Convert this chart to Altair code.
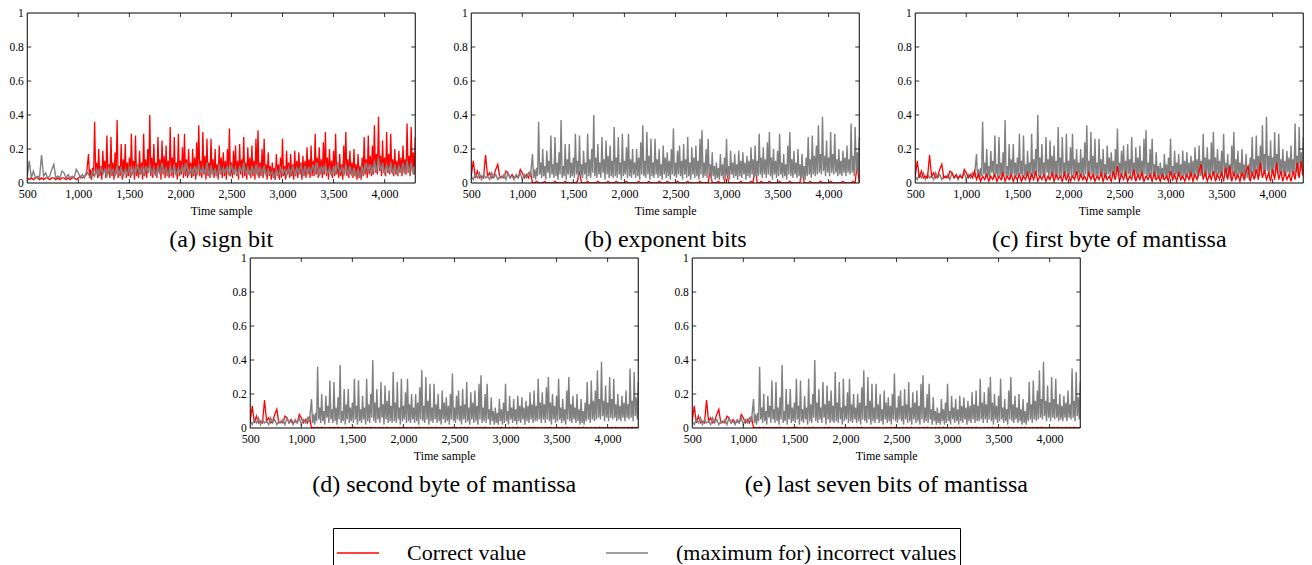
import altair as alt
import pandas as pd

FONT = "Liberation Serif"

# time-sample positions
x_early = list(range(500, 1100, 20))      # 500 .. 1080, every 20 samples
x_late = list(range(1100, 4301, 20))      # 1100 .. 4300, every 20 samples
x_late10 = list(range(1100, 4301, 10))    # 1100 .. 4300, every 10 samples
x_ticks = [500, 1000, 1500, 2000, 2500, 3000, 3500, 4000]
y_ticks = [0, 0.2, 0.4, 0.6, 0.8, 1]

series_names = ["Correct value", "(maximum for) incorrect values"]
series_colors = ["#ff0000", "#808080"]

captions = ["(a) sign bit", "(b) exponent bits", "(c) first byte of mantissa",
            "(d) second byte of mantissa", "(e) last seven bits of mantissa"]

# early segment (500-1080)
spiky_early = [0.04, 0.13, 0.03, 0.07, 0.03, 0.04, 0.03, 0.165, 0.04, 0.06,
               0.03, 0.04, 0.08, 0.11, 0.03, 0.04, 0.03, 0.07, 0.06, 0.03,
               0.05, 0.03, 0.04, 0.03, 0.08, 0.06, 0.03, 0.05, 0.03, 0.07]
quiet_early = [0.04, 0.02, 0.05, 0.03, 0.06, 0.02, 0.05, 0.03, 0.04, 0.02,
               0.06, 0.03, 0.05, 0.02, 0.04, 0.03, 0.05, 0.02, 0.06, 0.03,
               0.04, 0.02, 0.05, 0.03, 0.06, 0.02, 0.05, 0.03, 0.06, 0.04]
red_a_early = [0.03, 0.02, 0.03, 0.02, 0.03, 0.03, 0.02, 0.03, 0.02, 0.03,
               0.03, 0.02, 0.03, 0.03, 0.02, 0.03, 0.02, 0.03, 0.03, 0.02,
               0.03, 0.02, 0.03, 0.03, 0.02, 0.03, 0.04, 0.03, 0.04, 0.05]

# late segment (1100-4300, every 10 samples): the strongly peaked trace
spiky_late10 = [
    0.17, 0.03, 0.08, 0.02, 0.09, 0.04, 0.36, 0.05, 0.12, 0.03, 0.20, 0.04, 0.10, 0.02, 0.19, 0.06, 0.13, 0.03, 0.28, 0.05,
    0.11, 0.03, 0.27, 0.04, 0.12, 0.02, 0.18, 0.05, 0.37, 0.03, 0.10, 0.04, 0.23, 0.02, 0.14, 0.05, 0.23, 0.03, 0.12, 0.04,
    0.15, 0.03, 0.29, 0.05, 0.13, 0.02, 0.28, 0.04, 0.11, 0.03, 0.19, 0.05, 0.12, 0.02, 0.29, 0.04, 0.14, 0.03, 0.20, 0.06,
    0.40, 0.04, 0.15, 0.03, 0.23, 0.05, 0.12, 0.03, 0.27, 0.06, 0.14, 0.02, 0.25, 0.05, 0.16, 0.03, 0.22, 0.04, 0.13, 0.03,
    0.33, 0.04, 0.15, 0.03, 0.27, 0.05, 0.12, 0.02, 0.29, 0.04, 0.13, 0.05, 0.21, 0.03, 0.29, 0.04, 0.14, 0.03, 0.20, 0.05,
    0.12, 0.03, 0.20, 0.04, 0.15, 0.02, 0.24, 0.05, 0.34, 0.04, 0.13, 0.03, 0.30, 0.05, 0.16, 0.02, 0.26, 0.04, 0.12, 0.03,
    0.26, 0.05, 0.14, 0.03, 0.20, 0.04, 0.11, 0.02, 0.22, 0.05, 0.15, 0.03, 0.18, 0.04, 0.13, 0.02, 0.20, 0.05, 0.32, 0.04,
    0.12, 0.03, 0.19, 0.05, 0.22, 0.04, 0.13, 0.02, 0.23, 0.05, 0.14, 0.03, 0.27, 0.04, 0.12, 0.02, 0.21, 0.05, 0.15, 0.03,
    0.22, 0.04, 0.13, 0.02, 0.26, 0.05, 0.31, 0.03, 0.12, 0.04, 0.20, 0.03, 0.26, 0.05, 0.11, 0.02, 0.18, 0.04, 0.10, 0.02,
    0.12, 0.03, 0.09, 0.02, 0.17, 0.04, 0.11, 0.02, 0.15, 0.03, 0.26, 0.04, 0.10, 0.02, 0.19, 0.05, 0.12, 0.03, 0.17, 0.04,
    0.11, 0.02, 0.19, 0.04, 0.13, 0.03, 0.18, 0.05, 0.12, 0.02, 0.16, 0.04, 0.13, 0.03, 0.21, 0.05, 0.14, 0.03, 0.22, 0.04,
    0.13, 0.04, 0.29, 0.05, 0.15, 0.03, 0.21, 0.05, 0.14, 0.03, 0.24, 0.05, 0.30, 0.04, 0.15, 0.02, 0.20, 0.05, 0.13, 0.03,
    0.19, 0.04, 0.29, 0.05, 0.12, 0.03, 0.17, 0.04, 0.11, 0.02, 0.22, 0.05, 0.30, 0.04, 0.14, 0.03, 0.19, 0.05, 0.12, 0.03,
    0.20, 0.04, 0.11, 0.02, 0.17, 0.03, 0.10, 0.02, 0.15, 0.04, 0.27, 0.05, 0.14, 0.03, 0.28, 0.05, 0.16, 0.04, 0.22, 0.05,
    0.34, 0.06, 0.17, 0.05, 0.39, 0.07, 0.16, 0.04, 0.25, 0.06, 0.15, 0.04, 0.30, 0.06, 0.17, 0.05, 0.29, 0.06, 0.14, 0.04,
    0.20, 0.05, 0.13, 0.04, 0.19, 0.06, 0.15, 0.04, 0.22, 0.06, 0.14, 0.05, 0.35, 0.06, 0.16, 0.04, 0.33, 0.07, 0.18, 0.05,
    0.27]
# sign bit: maximum over incorrect values (every 20 samples)
gray_a_late = [
    0.05, 0.03, 0.07, 0.04, 0.08, 0.04, 0.09, 0.05, 0.08, 0.04,
    0.09, 0.05, 0.08, 0.04, 0.10, 0.05, 0.09, 0.04, 0.08, 0.05,
    0.10, 0.04, 0.09, 0.05, 0.11, 0.05, 0.09, 0.04, 0.10, 0.06,
    0.11, 0.05, 0.09, 0.04, 0.10, 0.05, 0.12, 0.06, 0.09, 0.04,
    0.10, 0.05, 0.11, 0.04, 0.09, 0.06, 0.10, 0.05, 0.12, 0.04,
    0.09, 0.05, 0.10, 0.04, 0.11, 0.06, 0.09, 0.05, 0.12, 0.04,
    0.10, 0.05, 0.08, 0.04, 0.11, 0.05, 0.09, 0.06, 0.10, 0.04,
    0.11, 0.05, 0.09, 0.04, 0.10, 0.06, 0.12, 0.05, 0.09, 0.04,
    0.10, 0.05, 0.11, 0.04, 0.09, 0.05, 0.10, 0.04, 0.08, 0.05,
    0.07, 0.03, 0.08, 0.04, 0.09, 0.05, 0.08, 0.04, 0.09, 0.05,
    0.10, 0.04, 0.09, 0.05, 0.11, 0.04, 0.10, 0.05, 0.09, 0.06,
    0.11, 0.05, 0.12, 0.04, 0.10, 0.06, 0.11, 0.05, 0.09, 0.04,
    0.10, 0.05, 0.12, 0.06, 0.09, 0.04, 0.11, 0.05, 0.10, 0.04,
    0.09, 0.04, 0.08, 0.03, 0.10, 0.05, 0.12, 0.06, 0.11, 0.05,
    0.13, 0.06, 0.15, 0.07, 0.12, 0.05, 0.11, 0.06, 0.12, 0.05,
    0.11, 0.05, 0.10, 0.06, 0.12, 0.05, 0.13, 0.06, 0.12, 0.05,
    0.10]
# first byte of mantissa: correct value (every 20 samples)
red_c_late = [
    0.02, 0.05, 0.01, 0.04, 0.02, 0.05, 0.01, 0.04, 0.02, 0.05,
    0.01, 0.04, 0.02, 0.06, 0.01, 0.04, 0.02, 0.05, 0.01, 0.04,
    0.02, 0.05, 0.01, 0.04, 0.02, 0.06, 0.01, 0.05, 0.02, 0.07,
    0.01, 0.04, 0.02, 0.05, 0.01, 0.04, 0.02, 0.06, 0.01, 0.05,
    0.02, 0.04, 0.01, 0.06, 0.02, 0.05, 0.01, 0.04, 0.02, 0.07,
    0.01, 0.05, 0.02, 0.04, 0.01, 0.06, 0.02, 0.05, 0.01, 0.04,
    0.02, 0.06, 0.01, 0.05, 0.02, 0.04, 0.01, 0.07, 0.02, 0.10,
    0.01, 0.05, 0.02, 0.06, 0.01, 0.04, 0.02, 0.08, 0.01, 0.05,
    0.02, 0.06, 0.01, 0.04, 0.02, 0.05, 0.01, 0.06, 0.02, 0.04,
    0.01, 0.05, 0.02, 0.04, 0.01, 0.07, 0.02, 0.05, 0.01, 0.06,
    0.02, 0.04, 0.01, 0.05, 0.02, 0.06, 0.01, 0.05, 0.02, 0.07,
    0.11, 0.02, 0.06, 0.01, 0.05, 0.02, 0.07, 0.01, 0.05, 0.02,
    0.06, 0.01, 0.09, 0.02, 0.10, 0.01, 0.06, 0.02, 0.05, 0.01,
    0.06, 0.02, 0.07, 0.10, 0.01, 0.06, 0.02, 0.08, 0.02, 0.12,
    0.03, 0.07, 0.02, 0.06, 0.01, 0.08, 0.02, 0.12, 0.02, 0.07,
    0.01, 0.06, 0.02, 0.05, 0.01, 0.07, 0.02, 0.12, 0.03, 0.13,
    0.04]
# exponent bits: correct value (every 20 samples, mostly near zero)
red_b_late = [
    0.00, 0.00, 0.01, 0.00, 0.00, 0.00, 0.01, 0.00, 0.00, 0.00,
    0.00, 0.01, 0.00, 0.00, 0.00, 0.00, 0.01, 0.00, 0.00, 0.00,
    0.00, 0.00, 0.01, 0.07, 0.00, 0.00, 0.00, 0.01, 0.00, 0.00,
    0.00, 0.00, 0.01, 0.00, 0.00, 0.00, 0.00, 0.01, 0.00, 0.00,
    0.00, 0.01, 0.00, 0.00, 0.00, 0.00, 0.01, 0.00, 0.00, 0.00,
    0.00, 0.00, 0.01, 0.00, 0.00, 0.00, 0.00, 0.01, 0.00, 0.00,
    0.00, 0.00, 0.01, 0.00, 0.00, 0.00, 0.01, 0.00, 0.00, 0.00,
    0.00, 0.01, 0.00, 0.00, 0.00, 0.00, 0.01, 0.00, 0.00, 0.00,
    0.00, 0.00, 0.01, 0.00, 0.00, 0.00, 0.00, 0.08, 0.00, 0.00,
    0.00, 0.01, 0.00, 0.00, 0.00, 0.09, 0.00, 0.00, 0.00, 0.00,
    0.00, 0.00, 0.01, 0.00, 0.00, 0.00, 0.00, 0.01, 0.00, 0.12,
    0.00, 0.00, 0.01, 0.00, 0.00, 0.00, 0.01, 0.00, 0.00, 0.00,
    0.00, 0.01, 0.00, 0.00, 0.00, 0.00, 0.01, 0.00, 0.00, 0.00,
    0.00, 0.00, 0.12, 0.00, 0.00, 0.00, 0.01, 0.00, 0.00, 0.00,
    0.00, 0.01, 0.00, 0.00, 0.00, 0.00, 0.01, 0.00, 0.00, 0.00,
    0.00, 0.00, 0.01, 0.00, 0.00, 0.00, 0.00, 0.01, 0.00, 0.12,
    0.00]
# mantissa bytes: correct value (every 20 samples, near zero)
red_de_late = [
    0.000, 0.004, 0.000, 0.003, 0.000, 0.005, 0.000, 0.002, 0.000, 0.004,
    0.000, 0.003, 0.000, 0.005, 0.000, 0.002, 0.000, 0.004, 0.000, 0.003,
    0.000, 0.005, 0.000, 0.002, 0.000, 0.004, 0.000, 0.003, 0.000, 0.005,
    0.000, 0.002, 0.000, 0.004, 0.000, 0.003, 0.000, 0.005, 0.000, 0.002,
    0.000, 0.004, 0.000, 0.003, 0.000, 0.005, 0.000, 0.002, 0.000, 0.004,
    0.000, 0.003, 0.000, 0.005, 0.000, 0.002, 0.000, 0.004, 0.000, 0.003,
    0.000, 0.005, 0.000, 0.002, 0.000, 0.004, 0.000, 0.003, 0.000, 0.005,
    0.000, 0.002, 0.000, 0.004, 0.000, 0.003, 0.000, 0.005, 0.000, 0.002,
    0.000, 0.004, 0.000, 0.003, 0.000, 0.005, 0.000, 0.002, 0.000, 0.004,
    0.000, 0.003, 0.000, 0.005, 0.000, 0.002, 0.000, 0.004, 0.000, 0.003,
    0.000, 0.005, 0.000, 0.002, 0.000, 0.004, 0.000, 0.003, 0.000, 0.005,
    0.000, 0.002, 0.000, 0.004, 0.000, 0.003, 0.000, 0.005, 0.000, 0.002,
    0.000, 0.004, 0.000, 0.003, 0.000, 0.005, 0.000, 0.002, 0.000, 0.004,
    0.000, 0.003, 0.000, 0.005, 0.000, 0.002, 0.000, 0.004, 0.000, 0.003,
    0.000, 0.005, 0.000, 0.002, 0.000, 0.004, 0.000, 0.003, 0.000, 0.005,
    0.000, 0.002, 0.000, 0.004, 0.000, 0.003, 0.000, 0.005, 0.000, 0.002,
    0.000]

for arr in (spiky_early, quiet_early, red_a_early):
    assert len(arr) == len(x_early), len(arr)
for arr in (gray_a_late, red_c_late, red_b_late, red_de_late):
    assert len(arr) == len(x_late), len(arr)
assert len(spiky_late10) == len(x_late10), len(spiky_late10)

xs_coarse = x_early + x_late
xs_fine = x_early + x_late10
# (red x, red values, grey x, grey values, red drawn on top)
panels = [
    (xs_fine, red_a_early + spiky_late10, xs_coarse, spiky_early + gray_a_late, False),
    (xs_coarse, spiky_early + red_b_late, xs_fine, quiet_early + spiky_late10, False),
    (xs_coarse, spiky_early + red_c_late, xs_fine, quiet_early + spiky_late10, True),
    (xs_coarse, spiky_early + red_de_late, xs_fine, quiet_early + spiky_late10, False),
    (xs_coarse, spiky_early + red_de_late, xs_fine, quiet_early + spiky_late10, False),
]

W, H = 388, 170

x_scale = alt.Scale(domain=[500, 4300], nice=False, zero=False)
y_scale = alt.Scale(domain=[0, 1], nice=False)
color_scale = alt.Scale(domain=series_names, range=series_colors)
legend = alt.Legend(
    title=None, orient="none", legendX=306, legendY=515, direction="horizontal",
    symbolType="stroke", symbolSize=1764, symbolStrokeWidth=1.5,
    labelFont=FONT, labelFontSize=22, labelColor="black", labelLimit=600,
    labelOffset=27, columnPadding=76, padding=3,
    strokeColor="black", fillColor="white",
)

x_axis = alt.Axis(values=x_ticks, format=",d", title="Time sample",
                  labelFlush=False, labelOverlap=False, labelPadding=5, titlePadding=6)
y_axis = alt.Axis(values=y_ticks, format=".1~f", title=None,
                  labelFlush=False, labelOverlap=False, labelPadding=4, labelFontSize=11.5)


def line_layer(df, sw):
    return alt.Chart(df).mark_line(strokeWidth=sw, clip=True).encode(
        x=alt.X("sample:Q", scale=x_scale, axis=x_axis),
        y=alt.Y("value:Q", scale=y_scale, axis=y_axis),
        color=alt.Color("series:N", scale=color_scale, legend=legend),
    )


xt = pd.DataFrame({"sample": x_ticks[1:]})
yt = pd.DataFrame({"value": y_ticks[1:-1]})
frame_df = pd.DataFrame({"frame": [1]})


def frame_layers():
    tx = alt.X("sample:Q", scale=x_scale, axis=x_axis)
    ty = alt.Y("value:Q", scale=y_scale, axis=y_axis)
    top = alt.Chart(xt).mark_rule(color="black", strokeWidth=0.8).encode(
        x=tx, y=alt.value(0), y2=alt.value(4))
    bot = alt.Chart(xt).mark_rule(color="black", strokeWidth=0.8).encode(
        x=tx, y=alt.value(H - 4), y2=alt.value(H))
    left = alt.Chart(yt).mark_rule(color="black", strokeWidth=0.8).encode(
        y=ty, x=alt.value(0), x2=alt.value(4))
    right = alt.Chart(yt).mark_rule(color="black", strokeWidth=0.8).encode(
        y=ty, x=alt.value(W - 4), x2=alt.value(W))
    box = alt.Chart(frame_df).mark_rect(fillOpacity=0, stroke="black", strokeWidth=1).encode(
        x=alt.value(0), x2=alt.value(W), y=alt.value(0), y2=alt.value(H))
    return [top, bot, left, right, box]


charts = []
for (rx, red, gx, gray, red_top), cap in zip(panels, captions):
    dred = pd.DataFrame({"sample": rx, "value": red, "series": series_names[0]})
    dgray = pd.DataFrame({"sample": gx, "value": gray, "series": series_names[1]})
    lr = line_layer(dred, 1.3)
    lg = line_layer(dgray, 1.4)
    layers = [lg, lr] if red_top else [lr, lg]
    ch = alt.layer(*layers, *frame_layers()).properties(
        width=W, height=H,
        title=alt.TitleParams(text=cap, orient="bottom", font=FONT, fontSize=24,
                              fontWeight="normal", color="black", offset=12, anchor="middle"),
    )
    charts.append(ch)

row1 = alt.hconcat(*charts[:3], spacing=36)
row2 = alt.hconcat(*charts[3:], spacing=34)
chart = alt.vconcat(row1, row2, spacing=0, center=True).resolve_scale(
    color="shared").resolve_legend(color="shared").properties(
    padding={"left": 0, "top": -1, "right": 0, "bottom": 0}
).configure_view(stroke=None).configure_axis(
    labelFont=FONT, labelFontSize=12, labelColor="black",
    titleFont=FONT, titleFontSize=12, titleFontWeight="normal", titleColor="black",
    domain=False, ticks=False, grid=False,
)

chart.save("out.html", embed_options={"renderer": "svg", "actions": False})
